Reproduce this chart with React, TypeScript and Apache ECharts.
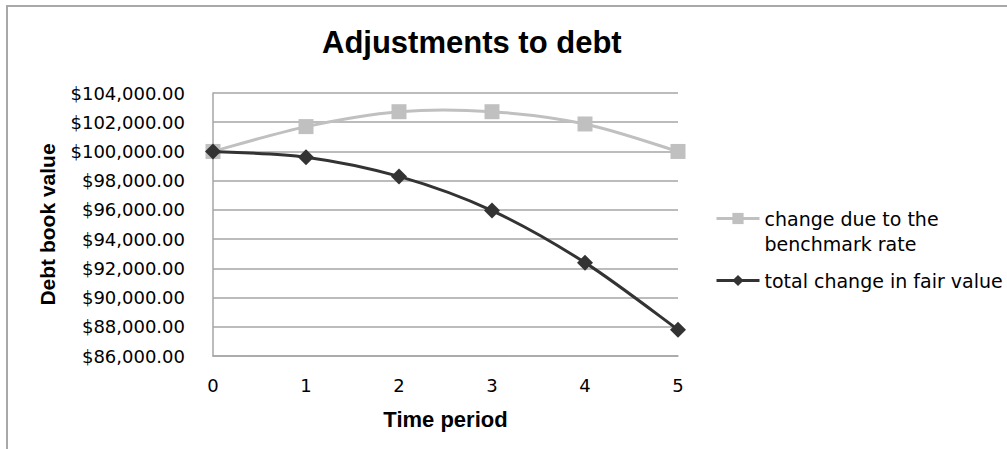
import React, { useEffect, useRef } from "react";
import * as echarts from "echarts";

const periods = ["0", "1", "2", "3", "4", "5"];
const benchmarkChange = [100000, 101700, 102720, 102720, 101880, 100000];
const totalFairValueChange = [100000, 99610, 98290, 95950, 92390, 87800];
const seriesNames = ["change due to the\nbenchmark rate", "total change in fair value"];
const titleText = "Adjustments to debt";
const yAxisName = "Debt book value";
const xAxisName = "Time period";

const fmt = (v: number) =>
  "$" + v.toLocaleString("en-US", { minimumFractionDigits: 2, maximumFractionDigits: 2 });

// Excel-like smooth curve (Catmull-Rom) drawn through the axis scales
const smoothCurve = (values: number[], color: string) => (params: any, api: any) => {
  if (params.dataIndex !== 0) return null;
  const pts = values.map((v, i) => api.coord([i, v]));
  const n = pts.length;
  let d = `M${pts[0][0]},${pts[0][1]}`;
  for (let i = 0; i < n - 1; i++) {
    const p0 = pts[Math.max(0, i - 1)];
    const p1 = pts[i];
    const p2 = pts[i + 1];
    const p3 = pts[Math.min(n - 1, i + 2)];
    const c1x = p1[0] + (p2[0] - p0[0]) / 6;
    const c1y = p1[1] + (p2[1] - p0[1]) / 6;
    const c2x = p2[0] - (p3[0] - p1[0]) / 6;
    const c2y = p2[1] - (p3[1] - p1[1]) / 6;
    d += ` C${c1x},${c1y} ${c2x},${c2y} ${p2[0]},${p2[1]}`;
  }
  return {
    type: "path",
    shape: { pathData: d },
    style: { fill: "none", stroke: color, lineWidth: 3 },
  };
};

export default function App() {
  const ref = useRef<HTMLDivElement>(null);
  useEffect(() => {
    if (!ref.current) return;
    const chart = echarts.init(ref.current, undefined, { renderer: "svg" });
    const lightColor = "#c0c0c0";
    const darkColor = "#333333";
    chart.setOption({
      animation: false,
      backgroundColor: "#ffffff",
      title: {
        text: titleText,
        left: 322,
        top: 27,
        padding: 0,
        textStyle: {
          fontFamily: "Liberation Sans",
          fontWeight: "bold",
          fontSize: 31,
          color: "#000",
        },
      },
      graphic: [
        {
          type: "rect",
          shape: { x: 7, y: 6, width: 1100, height: 1000 },
          style: { fill: "none", stroke: "#a8a8a8", lineWidth: 2 },
          silent: true,
        },
      ],
      legend: {
        orient: "vertical",
        left: 715,
        top: 181,
        padding: 0,
        itemGap: 12,
        itemWidth: 43,
        itemHeight: 14,
        formatter: (name: string) => (name === seriesNames[0] ? "\n" + name : name),
        textStyle: {
          fontFamily: "DejaVu Sans",
          fontSize: 19,
          lineHeight: 25,
          color: "#000",
        },
        data: [
          { name: seriesNames[0], lineStyle: { opacity: 1, width: 3, color: lightColor } },
          { name: seriesNames[1], lineStyle: { opacity: 1, width: 3, color: darkColor } },
        ],
      },
      grid: { left: 213, right: 329, top: 93, bottom: 93 },
      xAxis: {
        type: "category",
        data: periods,
        boundaryGap: false,
        name: xAxisName,
        nameLocation: "middle",
        nameGap: 52,
        nameTextStyle: {
          fontFamily: "Liberation Sans",
          fontWeight: "bold",
          fontSize: 22,
          color: "#000",
        },
        axisLine: { show: true, lineStyle: { color: "#a6a6a6", width: 1.5 } },
        axisTick: { show: false },
        axisLabel: {
          margin: 20,
          fontFamily: "DejaVu Sans",
          fontSize: 18,
          color: "#000",
        },
        splitLine: { show: false },
      },
      yAxis: {
        type: "value",
        min: 86000,
        max: 104000,
        interval: 2000,
        name: yAxisName,
        nameLocation: "middle",
        nameGap: 155,
        nameTextStyle: {
          fontFamily: "Liberation Sans",
          fontWeight: "bold",
          fontSize: 21,
          color: "#000",
        },
        axisLine: { show: true, lineStyle: { color: "#a6a6a6", width: 1.5 } },
        axisTick: { show: false },
        axisLabel: {
          margin: 28,
          fontFamily: "DejaVu Sans",
          fontSize: 18,
          color: "#000",
          formatter: (v: number) => fmt(v),
        },
        splitLine: { show: true, lineStyle: { color: "#a6a6a6", width: 1.5 } },
      },
      series: [
        {
          name: "benchmark-curve",
          type: "custom",
          renderItem: smoothCurve(benchmarkChange, lightColor),
          data: benchmarkChange.map((v, i) => [i, v]),
          silent: true,
          z: 1,
        },
        {
          name: seriesNames[0],
          type: "line",
          data: benchmarkChange,
          symbol: "rect",
          symbolSize: 15,
          lineStyle: { color: lightColor, width: 3, opacity: 0 },
          itemStyle: { color: lightColor },
          z: 2,
        },
        {
          name: "fair-value-curve",
          type: "custom",
          renderItem: smoothCurve(totalFairValueChange, darkColor),
          data: totalFairValueChange.map((v, i) => [i, v]),
          silent: true,
          z: 3,
        },
        {
          name: seriesNames[1],
          type: "line",
          data: totalFairValueChange,
          symbol: "diamond",
          symbolSize: 16,
          lineStyle: { color: darkColor, width: 3, opacity: 0 },
          itemStyle: { color: darkColor },
          z: 4,
        },
      ],
    });
    return () => chart.dispose();
  }, []);
  return (
    <div
      ref={ref}
      style={{ position: "fixed", left: 0, top: 0, width: 1007, height: 449 }}
    />
  );
}
